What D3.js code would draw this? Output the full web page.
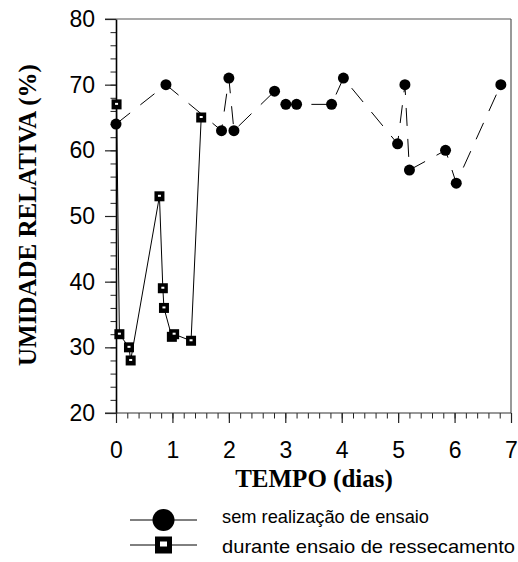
<!DOCTYPE html>
<html>
<head>
<meta charset="utf-8">
<script src="https://cdn.jsdelivr.net/npm/d3@7"></script>
<style>
  html, body { margin: 0; padding: 0; background: #fff; }
  svg { display: block; }
</style>
</head>
<body>
<svg id="chart" width="518" height="562"></svg>
<script>
// ---- data ----
const semDias   = [0, 0.885, 1.87, 2.0, 2.09, 2.81, 3.01, 3.2, 3.82, 4.03, 4.99, 5.12, 5.2, 5.84, 6.03, 6.82];
const semUR     = [64, 70, 63, 71, 63, 69, 67, 67, 67, 71, 61, 70, 57, 60, 55, 70];
const duranteDias = [0.01, 0.06, 0.23, 0.26, 0.77, 0.83, 0.85, 0.99, 1.03, 1.33, 1.51];
const duranteUR   = [67, 32, 30, 28, 53, 39, 36, 31.6, 32, 31, 65];
const xTicks = [0, 1, 2, 3, 4, 5, 6, 7];
const yTicks = [20, 30, 40, 50, 60, 70, 80];
const legendLabels = ["sem realização de ensaio", "durante ensaio de ressecamento"];
const xTitle = "TEMPO (dias)";
const yTitle = "UMIDADE RELATIVA (%)";

const svg = d3.select("#chart");
const x = d3.scaleLinear().domain([0, 7]).range([116, 511]);
const y = d3.scaleLinear().domain([20, 80]).range([413, 19]);

const sans = "'Liberation Sans', Arial, sans-serif";
const serif = "'Liberation Serif', 'Times New Roman', serif";

// frame (top & right)
svg.append("line").attr("x1", 105).attr("x2", x(7)).attr("y1", y(80)).attr("y2", y(80))
  .attr("stroke", "#555").attr("stroke-width", 1.2);
svg.append("line").attr("x1", x(7)).attr("x2", x(7)).attr("y1", y(80)).attr("y2", y(20))
  .attr("stroke", "#555").attr("stroke-width", 1.2);

// minor ticks
const yMinor = d3.range(20, 80.001, 2);
const xMinor = d3.range(0, 7.001, 0.2);
svg.append("g").attr("transform", `translate(${x(0)},0)`)
  .call(d3.axisLeft(y).tickValues(yMinor).tickSize(5.5).tickFormat(""))
  .call(g => g.select(".domain").remove())
  .selectAll("line").attr("stroke", "#222");
svg.append("g").attr("transform", `translate(0,${y(20)})`)
  .call(d3.axisBottom(x).tickValues(xMinor).tickSize(5.5).tickFormat(""))
  .call(g => g.select(".domain").remove())
  .selectAll("line").attr("stroke", "#222");

// major axes
const yAxis = svg.append("g").attr("transform", `translate(${x(0)},0)`)
  .call(d3.axisLeft(y).tickValues(yTicks).tickSize(11).tickPadding(10).tickSizeOuter(0).tickFormat(d3.format("d")));
yAxis.select(".domain").attr("stroke", "#000").attr("stroke-width", 1.6);
yAxis.selectAll("line").attr("stroke", "#222").attr("stroke-width", 1.2);
yAxis.selectAll("text").attr("font-family", sans).attr("font-size", 23).attr("fill", "#000");

const xAxis = svg.append("g").attr("transform", `translate(0,${y(20)})`)
  .call(d3.axisBottom(x).tickValues(xTicks).tickSize(10).tickPadding(19).tickSizeOuter(0).tickFormat(d3.format("d")));
xAxis.select(".domain").attr("stroke", "#333").attr("stroke-width", 1.2)
  .attr("d", `M105,0H${x(7)}`);
xAxis.selectAll("line").attr("stroke", "#222").attr("stroke-width", 1.2);
xAxis.selectAll("text").attr("font-family", sans).attr("font-size", 23).attr("fill", "#000");

// titles
svg.append("text").attr("x", 314).attr("y", 487).attr("text-anchor", "middle")
  .attr("font-family", serif).attr("font-weight", "bold").attr("font-size", 25)
  .text(xTitle);
svg.append("text").attr("transform", "translate(36,215) rotate(-90)").attr("text-anchor", "middle")
  .attr("font-family", serif).attr("font-weight", "bold").attr("font-size", 25)
  .text(yTitle);

// series
const sem = semDias.map((d, i) => ({ d, v: semUR[i] }));
const dur = duranteDias.map((d, i) => ({ d, v: duranteUR[i] }));
const line = d3.line().x(p => x(p.d)).y(p => y(p.v));

svg.append("path").datum(sem).attr("d", line).attr("fill", "none")
  .attr("stroke", "#000").attr("stroke-width", 1).attr("stroke-dasharray", "18,13");
svg.append("path").datum(dur).attr("d", line).attr("fill", "none")
  .attr("stroke", "#000").attr("stroke-width", 1);

svg.append("g").selectAll("circle").data(sem).join("circle")
  .attr("cx", p => x(p.d)).attr("cy", p => y(p.v)).attr("r", 5.5).attr("fill", "#000");

const sq = svg.append("g").selectAll("g").data(dur).join("g")
  .attr("transform", p => `translate(${x(p.d)},${y(p.v)})`);
sq.append("rect").attr("x", -5).attr("y", -5).attr("width", 10).attr("height", 10).attr("fill", "#000");
sq.append("rect").attr("x", -1.5).attr("y", -1.5).attr("width", 3).attr("height", 2).attr("fill", "#fff");

// legend
const lg = svg.append("g");
const rows = [{ yy: 520, label: legendLabels[0], type: "circle", ty: 523, w: 207 },
              { yy: 545, label: legendLabels[1], type: "square", ty: 553, w: 293 }];
rows.forEach(r => {
  lg.append("line").attr("x1", 130).attr("x2", 197).attr("y1", r.yy).attr("y2", r.yy)
    .attr("stroke", "#000").attr("stroke-width", 1);
  if (r.type === "circle") {
    lg.append("circle").attr("cx", 163.5).attr("cy", r.yy).attr("r", 11).attr("fill", "#000");
  } else {
    lg.append("rect").attr("x", 163.5 - 8.5).attr("y", r.yy - 8.5).attr("width", 17).attr("height", 17).attr("fill", "#000");
    lg.append("rect").attr("x", 163.5 - 3.5).attr("y", r.yy - 3.5).attr("width", 7).attr("height", 5).attr("fill", "#fff");
  }
  lg.append("text").attr("x", 222).attr("y", r.ty).attr("font-family", sans).attr("font-size", 18.5)
    .attr("textLength", r.w).attr("lengthAdjust", "spacingAndGlyphs")
    .attr("fill", "#000").text(r.label);
});
</script>
</body>
</html>
